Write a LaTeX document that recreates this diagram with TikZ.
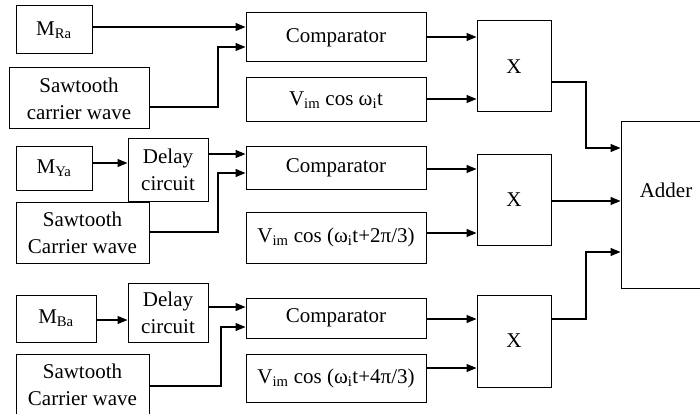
\documentclass[tikz,border=0pt]{standalone}
\usepackage{fontspec}
\setmainfont{Liberation Serif}
\usetikzlibrary{arrows.meta}
\begin{document}
\begin{tikzpicture}[x=1pt,y=-1pt,
  blk/.style={draw, line width=1pt, inner sep=0pt, align=center, font=\fontsize{21}{27}\selectfont},
  arr/.style={line width=1.2pt, -{Triangle[length=10pt,width=8pt]}},
  ln/.style={line width=1.2pt}]
\useasboundingbox (0,0) rectangle (700,414);
\clip (0,0) rectangle (700,414);
% row 1
\node[blk, minimum width=76pt, minimum height=48pt] (MRa) at (54,30) {M\textsubscript{Ra}};
\node[blk, minimum width=140pt, minimum height=61pt] (S1) at (79,98.5) {Sawtooth\\carrier wave};
\node[blk, minimum width=180pt, minimum height=49pt] (C1) at (336,37.5) {Comparator};
\node[blk, minimum width=180pt, minimum height=44pt] (V1) at (336,100) {V\textsubscript{im} cos ω\textsubscript{i}t};
\node[blk, minimum width=74pt, minimum height=91pt] (X1) at (514,66.5) {X};
% row 2
\node[blk, minimum width=76pt, minimum height=43pt] (MYa) at (54,168.5) {M\textsubscript{Ya}};
\node[blk, minimum width=80pt, minimum height=62pt] (D2) at (168,170) {Delay\\circuit};
\node[blk, minimum width=133pt, minimum height=61pt] (S2) at (82.5,232.5) {Sawtooth\\Carrier wave};
\node[blk, minimum width=180pt, minimum height=42pt] (C2) at (336,168) {Comparator};
\node[blk, minimum width=180pt, minimum height=51pt] (V2) at (336,237.5) {V\textsubscript{im} cos (ω\textsubscript{i}t+2π/3)};
\node[blk, minimum width=74pt, minimum height=91pt] (X2) at (514,199.5) {X};
% row 3
\node[blk, minimum width=80pt, minimum height=47pt] (MBa) at (56,318.5) {M\textsubscript{Ba}};
\node[blk, minimum width=80pt, minimum height=59pt] (D3) at (168,312.5) {Delay\\circuit};
\node[blk, minimum width=133pt, minimum height=62pt] (S3) at (82.5,385) {Sawtooth\\Carrier wave};
\node[blk, minimum width=180pt, minimum height=40pt] (C3) at (336,318) {Comparator};
\node[blk, minimum width=180pt, minimum height=48pt] (V3) at (336,378) {V\textsubscript{im} cos (ω\textsubscript{i}t+4π/3)};
\node[blk, minimum width=74pt, minimum height=92pt] (X3) at (514,341) {X};
% adder
\node[blk, minimum width=92pt, minimum height=166pt] (AD) at (667,205) {};
\node[blk, draw=none] (ADl) at (666,190) {Adder};
% connectors row 1
\draw[arr] (MRa.east |- 0,27) -- (C1.west |- 0,27);
\draw[arr] (S1.east |- 0,107) -| (218,47) -- (C1.west |- 0,47);
\draw[arr] (C1.east |- 0,37) -- (X1.west |- 0,37);
\draw[arr] (V1.east |- 0,99) -- (X1.west |- 0,99);
\draw[arr] (X1.east |- 0,82) -| (586,148) -- (AD.west |- 0,148);
% row 2
\draw[arr] (MYa.east |- 0,163) -- (D2.west |- 0,163);
\draw[arr] (D2.east |- 0,154) -- (C2.west |- 0,154);
\draw[arr] (S2.east |- 0,232) -| (218,173) -- (C2.west |- 0,173);
\draw[arr] (C2.east |- 0,169) -- (X2.west |- 0,169);
\draw[arr] (V2.east |- 0,233) -- (X2.west |- 0,233);
\draw[arr] (X2.east |- 0,201) -- (AD.west |- 0,201);
% row 3
\draw[arr] (MBa.east |- 0,320) -- (D3.west |- 0,320);
\draw[arr] (D3.east |- 0,307) -- (C3.west |- 0,307);
\draw[arr] (S3.east |- 0,386) -| (221,327) -- (C3.west |- 0,327);
\draw[arr] (C3.east |- 0,319) -- (X3.west |- 0,319);
\draw[arr] (V3.east |- 0,368) -- (X3.west |- 0,368);
\draw[arr] (X3.east |- 0,319) -| (586,252) -- (AD.west |- 0,252);
\end{tikzpicture}
\end{document}
